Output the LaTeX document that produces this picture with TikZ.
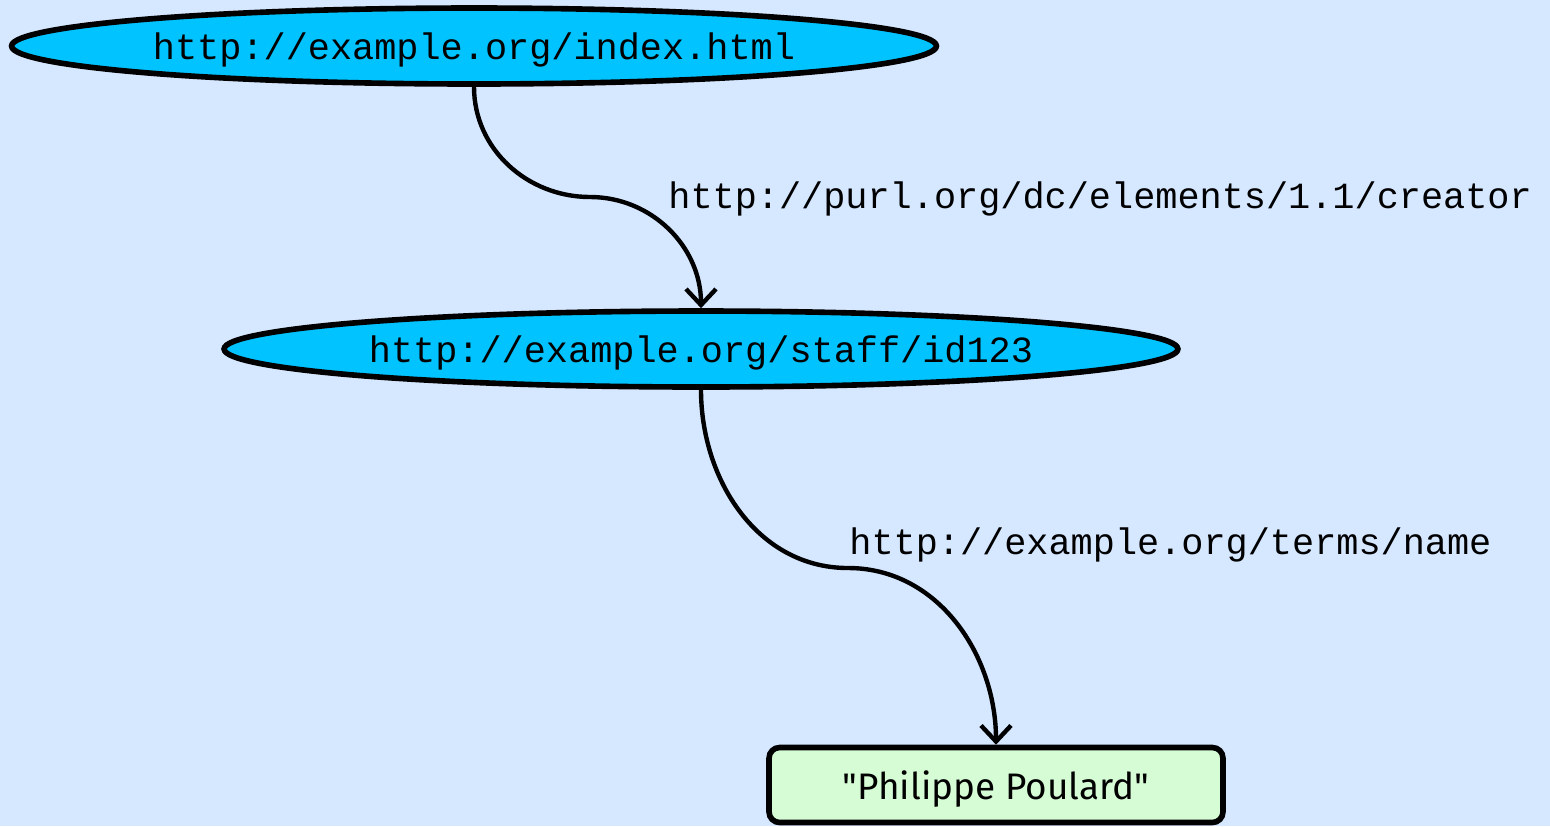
\documentclass[tikz,border=0pt]{standalone}
\usepackage{fontspec}
\setmonofont{Liberation Mono}
\newfontfamily\litfont{Fira Sans}
\usetikzlibrary{positioning,arrows.meta,shapes.geometric}
\definecolor{bgblue}{RGB}{214,232,255}
\definecolor{resblue}{RGB}{0,195,255}
\definecolor{litgreen}{RGB}{213,252,213}

\begin{document}
\begin{tikzpicture}[
  x=0.02cm, y=-0.02cm,
  font=\ttfamily\fontsize{21}{25}\selectfont,
  res/.style={ellipse, draw=black, line width=3.2pt, fill=resblue,
              inner sep=0pt, minimum height=1.52cm, text depth=0pt},
  lit/.style={draw=black, line width=3.2pt, fill=litgreen, rounded corners=6pt,
              minimum width=9.08cm, minimum height=1.5cm, text depth=0pt,
              font=\litfont\fontsize{21}{25}\selectfont},
  arr/.style={-{Straight Barb[length=3.2mm,width=6mm]}, line width=2.5pt},
  prop/.style={anchor=west, inner sep=0pt},
]
\fill[bgblue] (0,0) rectangle (1550,826);
\useasboundingbox (0,0) rectangle (1550,826);

\node[res, minimum width=18.5cm]  (index) at (474,46)  {http://example.org/index.html};
\node[res, minimum width=19.08cm] (staff) at (701,349) {http://example.org/staff/id123};
\node[lit]                        (name)  at (996,785) {"Philippe Poulard"};

\coordinate (m1) at (590,197);
\coordinate (m2) at (848,568);
\node[prop] (creator) at (668,199) {http://purl.org/dc/elements/1.1/creator};
\node[prop] (term)    at (849,545) {http://example.org/terms/name};

\draw[arr] (index.south) to[out=-90,in=180] (m1) to[out=0,in=90] (staff.north);
\draw[arr] (staff.south) to[out=-90,in=180] (m2) to[out=0,in=90] (name.north);
\end{tikzpicture}
\end{document}
